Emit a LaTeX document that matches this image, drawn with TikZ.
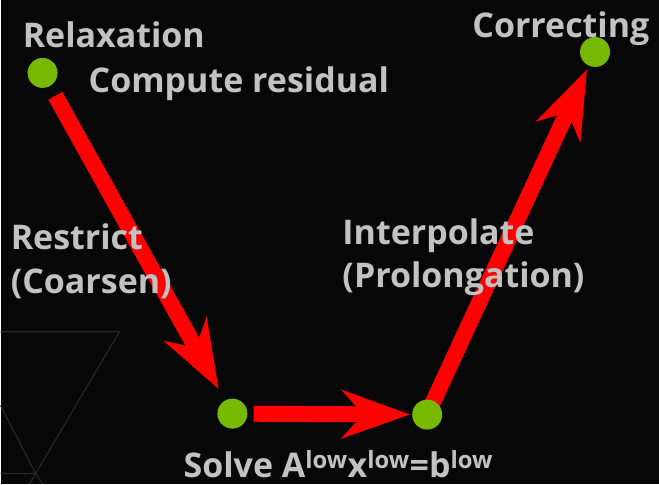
\documentclass[tikz,border=0pt]{standalone}
\usepackage{fontspec}
\setmainfont{Open Sans}
\usetikzlibrary{arrows.meta}
\pgfdeclarelayer{back}
\pgfdeclarelayer{mid}
\pgfsetlayers{back,mid,main}
\definecolor{bgcol}{HTML}{070707}
\definecolor{txtcol}{HTML}{C2C2C2}
\definecolor{dotcol}{HTML}{76B900}
\definecolor{gridcol}{HTML}{262626}
\tikzset{
  lbl/.style={anchor=base west, inner sep=0pt, text=txtcol,
    font=\fontsize{34}{40}\selectfont\bfseries},
  dot/.style={circle, fill=dotcol, inner sep=0pt, minimum size=30pt},
  flow/.style={draw=red, line width=16pt,
    -{Stealth[length=68pt, width=48pt, inset=21pt]}},
}
\begin{document}
\begin{tikzpicture}[x=1pt, y=1pt]
  \begin{pgfonlayer}{back}
    \fill[bgcol] (0,0) rectangle (659,-484);
    % faint triangle pattern in the lower left
    \draw[gridcol, line width=1.2pt] (0,-332) -- (119,-332) -- (35,-474) -- (0,-406);
    \draw[gridcol, line width=1.2pt] (0,-474) -- (35,-474) -- (42,-484);
    \draw[gridcol, line width=1.2pt] (35,-474) -- (29,-484);
  \end{pgfonlayer}
  \useasboundingbox (0,0) rectangle (659,-484);

  % grid levels of the V-cycle
  \node[dot] (d1) at (42,-73) {};
  \node[dot] (d2) at (232,-414) {};
  \node[dot] (d3) at (427,-415) {};
  \node[dot] (d4) at (595,-52) {};

  \begin{pgfonlayer}{mid}
    \draw[flow, shorten <=11pt, shorten >=13pt] (d1) -- (d2);
    \draw[flow, shorten <=6pt, shorten >=2pt] (d2) -- (d3);
    \draw[flow, shorten <=8pt, shorten >=4pt] (d3.center) -- (d4);
  \end{pgfonlayer}

  % labels
  \node[lbl] (relax) at (22,-48) {Relaxation};
  \node[lbl] (resid) at (88,-93) {Compute residual};
  \node[lbl] (corr) at (472,-38) {Correcting};
  \node[lbl] (restr) at (10,-250) {Restrict};
  \node[lbl] (coars) at (10,-294) {(Coarsen)};
  \node[lbl] (interp) at (342,-245) {Interpolate};
  \node[lbl] (prolong) at (342,-288) {(Prolongation)};
  \node[lbl] (solve) at (183,-478) {Solve A\textsuperscript{low}x\textsuperscript{low}=b\textsuperscript{low}};
\end{tikzpicture}
\end{document}
